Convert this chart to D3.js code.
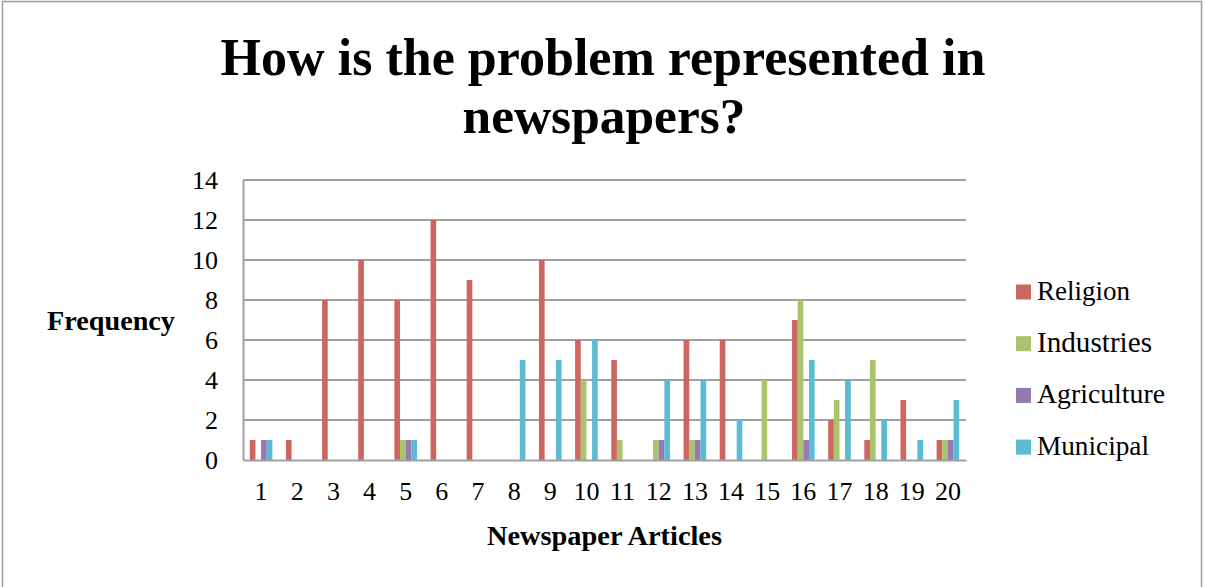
<!DOCTYPE html>
<html>
<head>
<meta charset="utf-8">
<script src="https://cdn.jsdelivr.net/npm/d3@7"></script>
<style>
  html, body { margin: 0; padding: 0; background: #fff; }
  svg { display: block; }
  text { font-family: "Liberation Serif", "DejaVu Serif", serif; fill: #000; }
</style>
</head>
<body>
<svg id="chart" width="1205" height="587"></svg>
<script>
// Newspaper articles 1..20
const articles = d3.range(1, 21).map(String);
const seriesNames = ["Religion", "Industries", "Agriculture", "Municipal"];
const seriesColors = ["#cd6660", "#a9c46c", "#9479b3", "#5bbad4"];

// Frequency per article for each theme
const religion    = [1, 1, 8, 10, 8, 12, 9, 0, 10, 6, 5, 0, 6, 6, 0, 7, 2, 1, 3, 1];
const industries  = [0, 0, 0, 0, 1, 0, 0, 0, 0, 4, 1, 1, 1, 0, 4, 8, 3, 5, 0, 1];
const agriculture = [1, 0, 0, 0, 1, 0, 0, 0, 0, 0, 0, 1, 1, 0, 0, 1, 0, 0, 0, 1];
const municipal   = [1, 0, 0, 0, 1, 0, 0, 5, 5, 6, 0, 4, 4, 2, 0, 5, 4, 2, 1, 3];
const seriesValues = [religion, industries, agriculture, municipal];

const yTicks = [0, 2, 4, 6, 8, 10, 12, 14];

const svg = d3.select("#chart");
const grid = "#a0a0a0";

// size a text element so that it spans the given width
function fitWidth(sel, width) {
  sel.each(function () {
    const t = d3.select(this);
    const size = parseFloat(t.attr("font-size"));
    const w = this.getComputedTextLength();
    if (w > 0) t.attr("font-size", (size * width / w).toFixed(2));
  });
  return sel;
}

// outer chart frame
svg.append("rect")
  .attr("x", 2.5).attr("y", 1.5)
  .attr("width", 1199).attr("height", 620)
  .attr("fill", "none").attr("stroke", "#9a9a9a").attr("stroke-width", 1.5);

const plot = { left: 243, right: 966, top: 180, bottom: 460 };

const x = d3.scaleBand().domain(articles)
  .range([plot.left, plot.right]).paddingInner(0.375).paddingOuter(0.1875);
const xs = d3.scaleBand().domain(seriesNames).range([0, x.bandwidth()]);
const y = d3.scaleLinear().domain([0, 14]).range([plot.bottom, plot.top]);

// horizontal gridlines
svg.append("g").selectAll("line").data(yTicks.filter(d => d > 0)).join("line")
  .attr("x1", plot.left).attr("x2", plot.right)
  .attr("y1", d => y(d)).attr("y2", d => y(d))
  .attr("stroke", grid).attr("stroke-width", 2);

// bars
const groups = svg.append("g").selectAll("g").data(articles).join("g")
  .attr("transform", d => `translate(${x(d)},0)`);
groups.selectAll("rect")
  .data((d, i) => seriesNames.map((s, k) => ({ s, k, v: seriesValues[k][i] })))
  .join("rect")
  .attr("x", d => xs(d.s))
  .attr("width", xs.bandwidth())
  .attr("y", d => y(d.v))
  .attr("height", d => y(0) - y(d.v))
  .attr("fill", d => seriesColors[d.k]);

// axes
const yAxis = svg.append("g").attr("transform", `translate(${plot.left},0)`)
  .call(d3.axisLeft(y).tickValues(yTicks).tickSize(0).tickPadding(25));
const xAxis = svg.append("g").attr("transform", `translate(0,${plot.bottom})`)
  .call(d3.axisBottom(x.copy().paddingInner(0).paddingOuter(0)).tickSize(0).tickPadding(22));
[yAxis, xAxis].forEach(a => {
  a.select(".domain").attr("stroke", grid).attr("stroke-width", 2);
  a.selectAll("text").style("font-size", "26px");
});
xAxis.selectAll(".tick text").attr("dy", "0.71em");

// chart title
fitWidth(svg.append("text").attr("x", 603).attr("y", 75).attr("text-anchor", "middle")
  .attr("font-size", 48).attr("font-weight", "bold")
  .text("How is the problem represented in"), 765);
fitWidth(svg.append("text").attr("x", 604).attr("y", 133).attr("text-anchor", "middle")
  .attr("font-size", 48).attr("font-weight", "bold")
  .text("newspapers?"), 283);

// axis titles
fitWidth(svg.append("text").attr("x", 111).attr("y", 330).attr("text-anchor", "middle")
  .attr("font-size", 24).attr("font-weight", "bold").text("Frequency"), 128);
fitWidth(svg.append("text").attr("x", 604.5).attr("y", 545).attr("text-anchor", "middle")
  .attr("font-size", 24).attr("font-weight", "bold").text("Newspaper Articles"), 235);

// legend
const legendWidths = [93, 115, 128, 112];
const legend = svg.append("g").selectAll("g").data(seriesNames).join("g")
  .attr("transform", (d, i) => `translate(1016,${292 + i * 51.7})`);
legend.append("rect").attr("x", 0).attr("y", -7.5).attr("width", 15).attr("height", 15)
  .attr("fill", (d, i) => seriesColors[i]);
legend.append("text").attr("x", 21).attr("y", 8).attr("font-size", 24).text(d => d)
  .each(function (d, i) { fitWidth(d3.select(this), legendWidths[i]); });
</script>
</body>
</html>
